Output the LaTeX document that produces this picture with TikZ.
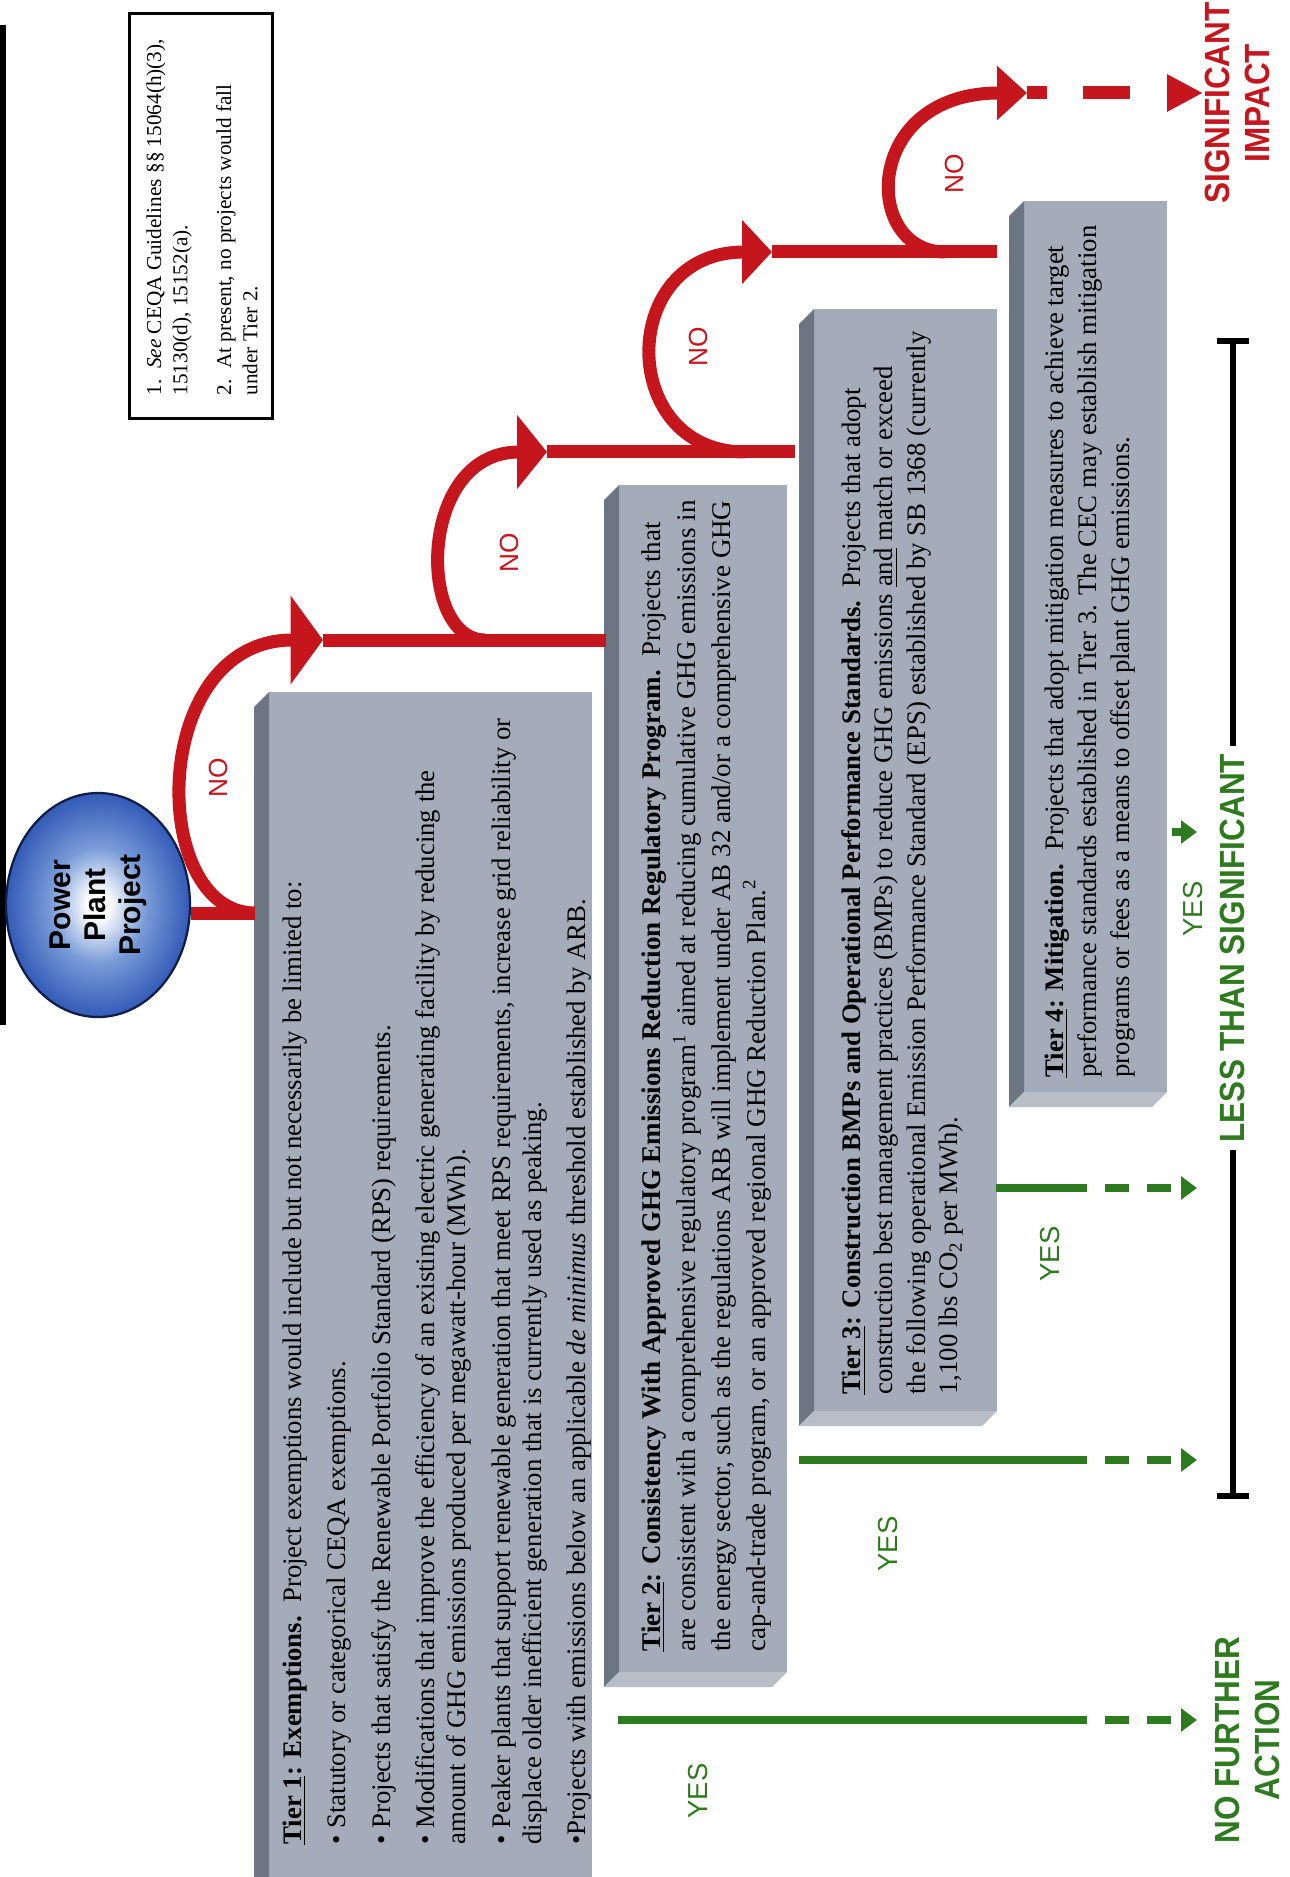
\documentclass[tikz,border=0pt]{standalone}
\usepackage{fontspec}
\setmainfont{Liberation Serif}
\newfontfamily\sansf{Liberation Sans}
\newfontfamily\condf[FakeStretch=0.9]{Liberation Sans}
\usetikzlibrary{arrows.meta,shapes.geometric}
\definecolor{pred}{RGB}{196,22,28}
\definecolor{pgreen}{RGB}{46,122,30}
\definecolor{boxfront}{RGB}{163,172,184}
\definecolor{boxside}{RGB}{108,117,130}
\definecolor{boxbottom}{RGB}{184,190,198}
\definecolor{ppmid}{RGB}{120,155,215}
\definecolor{ppblue}{RGB}{45,85,180}
\definecolor{ppdeep}{RGB}{28,58,145}
\definecolor{ppnavy}{RGB}{15,30,70}
\pgfdeclareradialshading{ppshade}{\pgfpoint{0bp}{0bp}}{color(0bp)=(white); color(3bp)=(white); color(13bp)=(ppmid); color(26bp)=(ppblue); color(50bp)=(ppdeep)}
\newcommand\mytierbox[4]{%
  \fill[boxfront] (#1+15,#2) rectangle (#3,#4-15);
  \fill[boxside] (#1+15,#2) -- (#1,#2+15) -- (#1,#4) -- (#1+15,#4-15) -- cycle;
  \fill[boxbottom] (#1+15,#4-15) -- (#3,#4-15) -- (#3-15,#4) -- (#1,#4) -- cycle;
}
\tikzset{
  redline/.style={draw=pred, line width=5.2pt},
  grnline/.style={draw=pgreen, line width=3.2pt},
  tiertext/.style={rotate=90, anchor=north west, inner sep=0pt, align=left, text=black},
  nolabel/.style={rotate=90, text=pred, inner sep=0pt, font=\sansf\fontsize{10.5}{12}\selectfont},
  yeslabel/.style={rotate=90, text=pgreen, inner sep=0pt, font=\sansf\fontsize{11}{13}\selectfont},
  biglabel/.style={rotate=90, align=center, inner sep=0pt, font=\condf\bfseries\fontsize{14}{16}\selectfont},
  gtip/.style={-{Triangle[length=6.4pt,width=9pt]}}
}
\begin{document}
\begin{tikzpicture}[x=0.4pt,y=-0.4pt]
\useasboundingbox (0,0) rectangle (1290,1877);
\fill[white] (0,0) rectangle (1290,1877);

% left black bar
\fill[black] (0,25) rectangle (6,1025);

% footnote box
\draw[line width=1.2pt] (129,14) rectangle (272,419);
\node[tiertext, font=\fontsize{8.5}{10.5}\selectfont] (fn) at (146,396) {%
1.\ \ \emph{See} CEQA Guidelines §§ 15064(h)(3),\\
15130(d), 15152(a).\\[7pt]
2.\ \ At present, no projects would fall\\
under Tier 2.};

% tier boxes
\mytierbox{254}{692}{592}{1900}
\mytierbox{604}{485}{787}{1687}
\mytierbox{799}{309}{997}{1426}
\mytierbox{1009}{201}{1167}{1107}

% tier texts
\node[tiertext, font=\fontsize{10.7}{12.4}\selectfont] (t1) at (282,1845) {%
\textbf{\underline{Tier 1}: Exemptions.}\ \ Project exemptions would include but not necessarily be limited to:\\[5.4pt]
• Statutory or categorical CEQA exemptions.\\[5.4pt]
• Projects that satisfy the Renewable Portfolio Standard (RPS) requirements.\\[5.4pt]
• Modifications that improve the efficiency of an existing electric generating facility by reducing the\\
amount of GHG emissions produced per megawatt-hour (MWh).\\[5.4pt]
• Peaker plants that support renewable generation that meet RPS requirements, increase grid reliability or\\
displace older inefficient generation that is currently used as peaking.\\[5.4pt]
•Projects with emissions below an applicable \emph{de minimus} threshold established by ARB.};

\node[tiertext, font=\fontsize{10.8}{14}\selectfont] (t2) at (641,1652) {%
\textbf{\underline{Tier 2}: Consistency With Approved GHG Emissions Reduction Regulatory Program.}\ \ Projects that\\
are consistent with a comprehensive regulatory program\textsuperscript{1} aimed at reducing cumulative GHG emissions in\\
the energy sector, such as the regulations ARB will implement under AB 32 and/or a comprehensive GHG\\
cap-and-trade program, or an approved regional GHG Reduction Plan.\textsuperscript{2}};

\node[tiertext, font=\fontsize{10.7}{13}\selectfont] (t3) at (841,1395) {%
\textbf{\underline{Tier 3}: Construction BMPs and Operational Performance Standards.}\ \ Projects that adopt\\
construction best management practices (BMPs) to reduce GHG emissions \underline{and} match or exceed\\
the following operational Emission Performance Standard (EPS) established by SB 1368 (currently\\
1,100 lbs CO\textsubscript{2} per MWh).};

\node[tiertext, font=\fontsize{10.7}{13.2}\selectfont] (t4) at (1044,1078) {%
\textbf{\underline{Tier 4}: Mitigation.}\ \ Projects that adopt mitigation measures to achieve target\\
performance standards established in Tier 3. The CEC may establish mitigation\\
programs or fees as a means to offset plant GHG emissions.};

% power plant project
\node[ellipse, rotate=90, minimum width=89.6pt, minimum height=73.6pt, inner sep=0pt,
      draw=ppnavy, line width=0.9pt, shade, shading=ppshade, align=center,
      font=\sansf\bfseries\fontsize{12}{14}\selectfont] (pp) at (98,905) {Power\\Plant\\Project};

% red path
\coordinate (j1) at (255,913);
\coordinate (a1) at (323,640);
\coordinate (j2) at (485,640);
\coordinate (a2) at (547,452);
\coordinate (j3) at (745,452);
\coordinate (a3) at (772,252);
\coordinate (j4) at (945,252);
\coordinate (a4) at (1027,93);
\coordinate (sig) at (1203,93);

\draw[redline] (pp.south |- j1) -- (j1);
\draw[redline, -{Triangle[length=13pt,width=35pt]}] (j1) .. controls (148,913) and (148,640) .. (a1);
\draw[redline] (a1) -- (606,640);
\draw[redline, -{Triangle[length=12pt,width=29pt]}] (j2) .. controls (417,640) and (417,452) .. (a2);
\draw[redline] (a2) -- (795,452);
\draw[redline, -{Triangle[length=12pt,width=25pt]}] (j3) .. controls (617,452) and (617,252) .. (a3);
\draw[redline] (a3) -- (997,252);
\draw[redline, -{Triangle[length=12pt,width=21pt]}] (j4) .. controls (862,252) and (862,93) .. (a4);
\draw[redline, dash pattern=on 8pt off 14.4pt on 18.8pt off 14.8pt, -{Triangle[length=14.4pt,width=14pt]}] (a4) -- (sig);

\node[nolabel] (no1) at (218,778) {NO};
\node[nolabel] (no2) at (509,553) {NO};
\node[nolabel] (no3) at (698,347) {NO};
\node[nolabel] (no4) at (954,174) {NO};

% green YES paths
\coordinate (gA) at (618,1720);
\coordinate (gB) at (799,1460);
\coordinate (gC) at (996,1188);
\coordinate (gD) at (1172,832);
\coordinate (eA) at (1197,1720);
\coordinate (eB) at (1197,1460);
\coordinate (eC) at (1197,1188);
\coordinate (eD) at (1197,832);
\draw[grnline, gtip, dash pattern=on 187.6pt off 7.2pt on 9.6pt off 7.2pt on 9.6pt off 4pt] (gA) -- (eA);
\draw[grnline, gtip, dash pattern=on 115.2pt off 7.2pt on 9.6pt off 7.2pt on 9.6pt off 4pt] (gB) -- (eB);
\draw[grnline, gtip, dash pattern=on 36.4pt off 7.2pt on 9.6pt off 7.2pt on 9.6pt off 4pt] (gC) -- (eC);
\draw[grnline, gtip] (gD) -- (eD);

\node[yeslabel] (yA) at (698,1791) {YES};
\node[yeslabel] (yB) at (888,1544) {YES};
\node[yeslabel] (yC) at (1050,1254) {YES};
\node[yeslabel] (yD) at (1193,909) {YES};

% outcome labels
\node[biglabel, text=pred] (si) at (1237,103) {SIGNIFICANT\\IMPACT};
\node[biglabel, text=pgreen, inner sep=3pt] (lts) at (1232,948) {LESS THAN SIGNIFICANT};
\node[biglabel, text=pgreen] (nfa) at (1247,1740) {NO FURTHER\\ACTION};

% bracket
\coordinate (bt) at (1233,341);
\coordinate (bb) at (1233,1496);
\draw[line width=2.4pt] ([xshift=-6.4pt]bt) -- ([xshift=6.4pt]bt);
\draw[line width=2.4pt] ([xshift=-6.4pt]bb) -- ([xshift=6.4pt]bb);
\draw[line width=2.4pt] (bt) -- (bt |- lts.east);
\draw[line width=2.4pt] (bb) -- (bb |- lts.west);
\end{tikzpicture}
\end{document}
